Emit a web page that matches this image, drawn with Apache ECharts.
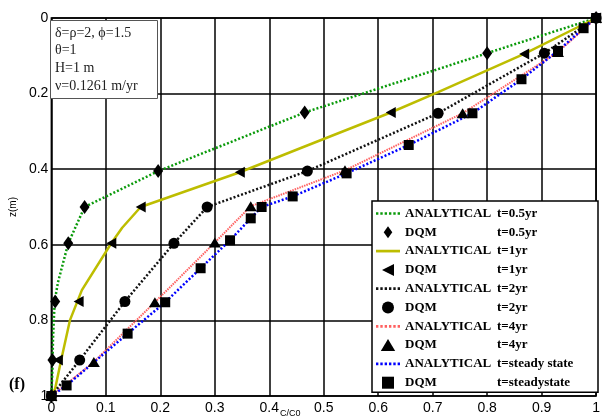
<!DOCTYPE html>
<html><head><meta charset="utf-8">
<script src="https://cdn.jsdelivr.net/npm/echarts@6/dist/echarts.min.js"></script>
<style>html,body{margin:0;padding:0;background:#fff}#c{width:603px;height:419px}</style>
</head><body><div id="c"></div>
<script>
// tick labels
const xTickLabels = ['0','0.1','0.2','0.3','0.4','0.5','0.6','0.7','0.8','0.9','1'];
const yTickLabels = ['0','0.2','0.4','0.6','0.8','1'];
// series values as [C/C0, z]
const anal05 = [[1,0],[0.8,0.093],[0.465,0.25],[0.196,0.405],[0.061,0.5],[0.031,0.596],[0.012,0.7],[0.006,0.75],[0.003,0.85],[0.002,0.93],[0,1]];
const dqm05  = [[1,0],[0.8,0.093],[0.465,0.25],[0.196,0.405],[0.061,0.5],[0.031,0.596],[0.007,0.75],[0.002,0.905],[0,1]];
const anal1  = [[1,0],[0.868,0.095],[0.71,0.196],[0.623,0.25],[0.458,0.344],[0.346,0.408],[0.164,0.5],[0.13,0.555],[0.11,0.596],[0.056,0.72],[0.034,0.8],[0.018,0.905],[0.007,0.98],[0,1]];
const dqm1   = [[1,0],[0.868,0.095],[0.623,0.25],[0.346,0.408],[0.164,0.5],[0.11,0.596],[0.05,0.75],[0.012,0.905],[0,1]];
const anal2  = [[1,0],[0.905,0.093],[0.71,0.252],[0.47,0.405],[0.286,0.5],[0.225,0.596],[0.135,0.75],[0.052,0.905],[0,1]];
const dqm2   = [[1,0],[0.905,0.093],[0.71,0.252],[0.47,0.405],[0.286,0.5],[0.225,0.596],[0.135,0.75],[0.052,0.905],[0,1]];
const anal4  = [[1,0],[0.93,0.09],[0.755,0.252],[0.539,0.403],[0.366,0.498],[0.30,0.594],[0.19,0.752],[0.078,0.91],[0,1]];
const dqm4   = [[1,0],[0.93,0.09],[0.755,0.252],[0.539,0.403],[0.366,0.498],[0.30,0.594],[0.19,0.752],[0.078,0.91],[0,1]];
const analSS = [[1,0],[0.977,0.027],[0.93,0.087],[0.863,0.162],[0.773,0.252],[0.656,0.336],[0.542,0.411],[0.443,0.472],[0.386,0.5],[0.366,0.53],[0.328,0.588],[0.274,0.662],[0.209,0.752],[0.14,0.835],[0.028,0.972],[0,1]];
const dqmSS  = [[1,0],[0.977,0.027],[0.93,0.087],[0.863,0.162],[0.773,0.252],[0.656,0.336],[0.542,0.411],[0.443,0.472],[0.386,0.5],[0.366,0.53],[0.328,0.588],[0.274,0.662],[0.209,0.752],[0.14,0.835],[0.028,0.972],[0,1]];
const paramLines = ['δ=ρ=2, ϕ=1.5','θ=1','H=1 m','ν=0.1261 m/yr'];
const seriesNames = [
 'ANALYTICAL|t=0.5yr','DQM|t=0.5yr','ANALYTICAL|t=1yr','DQM|t=1yr','ANALYTICAL|t=2yr','DQM|t=2yr',
 'ANALYTICAL|t=4yr','DQM|t=4yr','ANALYTICAL|t=steady state','DQM|t=steadystate'];

const chart = echarts.init(document.getElementById('c'), null, {renderer:'canvas'});
let dots = '';
for (let i = 0; i < 6; i++) dots += 'M' + (i*4) + ',0 h2.2 v2.5 h-2.2 Z ';
const SYM = {
  diamond:'path://M5,0 L10,7 L5,14 L0,7 Z',
  left:'path://M0,5 L10,0 L10,10 Z',
  tri:'path://M6,0 L12,10 L0,10 Z',
  sq:'path://M0,0 L10,0 L10,10 L0,10 Z',
  dotLine:'path://' + dots,
  solidLine:'path://M0,0 h22.2 v2.5 h-22.2 Z'
};
function lineS(name, data, color, width, dash){
  return {name, type:'line', data, symbol:'none', clip:false, z:2, silent:true,
    lineStyle:{color, width, type:dash}, itemStyle:{color}};
}
function dotS(name, data, symbol, size){
  return {name, type:'scatter', data, symbol, symbolSize:size, clip:false, z:5, silent:true,
    itemStyle:{color:'#000',opacity:1,borderWidth:0}};
}
const legendIcons = [SYM.dotLine,SYM.diamond,SYM.solidLine,SYM.left,SYM.dotLine,'circle',SYM.dotLine,SYM.tri,SYM.dotLine,SYM.sq];
const option = {
  animation:false,
  grid:{left:46,right:2,top:18,bottom:23,show:true,borderColor:'#000',borderWidth:1.5,backgroundColor:'#fff'},
  xAxis:{type:'value',min:0,max:1,interval:0.1,
    axisLine:{show:false},axisTick:{show:false},
    splitLine:{show:true,lineStyle:{color:'#000',width:1.5}},
    axisLabel:{margin:5,color:'#000',fontFamily:'Liberation Sans',fontSize:14,
      formatter:v=>xTickLabels[Math.round(v*10)]}},
  yAxis:{type:'value',min:0,max:1,interval:0.2,inverse:true,
    name:'z(m)',nameLocation:'middle',nameGap:32,nameTextStyle:{color:'#000',fontFamily:'Liberation Sans',fontSize:10},
    axisLine:{show:false},axisTick:{show:false},
    splitLine:{show:true,lineStyle:{color:'#000',width:1.5}},
    axisLabel:{margin:3,color:'#000',fontFamily:'Liberation Sans',fontSize:14,
      formatter:v=>yTickLabels[Math.round(v*5)]}},
  legend:{orient:'vertical',left:372,top:201,
    data:seriesNames.map((n,i)=>({name:n,icon:legendIcons[i]})),
    backgroundColor:'#fff',borderColor:'#000',borderWidth:1.5,padding:[6,4,3,4],
    itemWidth:24,itemHeight:12,itemGap:5.8,selectedMode:false,
    formatter:n=>{const p=n.split('|');return '{a|'+p[0]+'}{b|'+p[1]+'}';},
    textStyle:{color:'#000',fontFamily:'Liberation Serif',fontWeight:'bold',fontSize:13,
      rich:{a:{width:92,fontFamily:'Liberation Serif',fontWeight:'bold',fontSize:13,lineHeight:14},
            b:{width:97,fontFamily:'Liberation Serif',fontWeight:'bold',fontSize:13,lineHeight:14}}}},
  series:[
    lineS(seriesNames[0],anal05,'#0a9a0a',2.5,[2,2]),
    dotS(seriesNames[1],dqm05,SYM.diamond,[10,14]),
    lineS(seriesNames[2],anal1,'#bdbd00',2.5,'solid'),
    dotS(seriesNames[3],dqm1,SYM.left,[10,11]),
    lineS(seriesNames[4],anal2,'#111',2.5,[2,2]),
    dotS(seriesNames[5],dqm2,'circle',11),
    lineS(seriesNames[6],anal4,'#ff6060',2,[1.5,1]),
    dotS(seriesNames[7],dqm4,SYM.tri,[12,10]),
    lineS(seriesNames[8],analSS,'#0000ff',2.5,[2,2]),
    dotS(seriesNames[9],dqmSS,SYM.sq,10)
  ],
  graphic:[
    {type:'rect',left:50,top:20,z:50,shape:{width:107,height:78},style:{fill:'#fff',stroke:'#555',lineWidth:1}},
    ...paramLines.map((t,i)=>({type:'text',left:55,top:26+i*17.7,z:51,
      style:{text:t,fill:'#222',font:'14px "Liberation Serif"'}})),
    {type:'text',left:9,top:377,z:51,style:{text:'(f)',fill:'#000',font:'bold 16px "Liberation Serif"'}},
    {type:'text',left:280,top:409,z:51,style:{text:'C/C0',fill:'#000',font:'9px "Liberation Sans"'}}
  ]
};
chart.setOption(option);
</script></body></html>
